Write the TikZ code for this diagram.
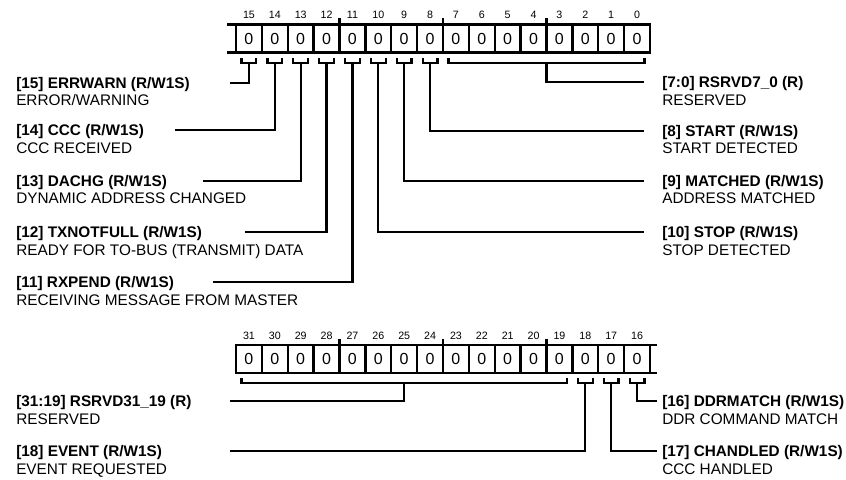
\documentclass[tikz,border=0pt]{standalone}
\usepackage{fontspec}
\setmainfont{Liberation Sans}
\newcommand\regbrk[3]{\draw[conn] (#1,#3) -- (#1,#3+5.5) -- (#2,#3+5.5) -- (#2,#3);}
\begin{document}
\begin{tikzpicture}[x=0.75pt,y=-0.75pt,
  reg/.style={line width=1.7pt},
  cellbox/.style={draw, line width=1.7pt, minimum width=19.40625pt, minimum height=21pt, inner sep=0pt, outer sep=0pt, font=\fontsize{12}{14}\selectfont},
  bitnum/.style={inner sep=0pt, font=\fontsize{8}{9}\selectfont},
  lbl/.style={anchor=base west, inner sep=0pt, font=\fontsize{11.5}{14}\selectfont\bfseries},
  dsc/.style={anchor=base west, inner sep=0pt, font=\fontsize{11.5}{14}\selectfont},
  conn/.style={line width=1.7pt, line join=miter}
]
\useasboundingbox (0,0) rectangle (846,479);

% ---------- top register (bits 15..0) ----------
\foreach \k in {0,...,15}{
  \pgfmathtruncatemacro\b{15-\k}
  \node[cellbox] (c\b) at ({236+(\k+0.5)*25.875},38.5) {0};
  \node[bitnum] (n\b) at ({236+(\k+0.5)*25.875},15) {\b};
}
\foreach \k in {4,8,12}{
  \draw[reg] ({236+\k*25.875},18) -- ({236+\k*25.875},24.5);
}
\coordinate (xt) at (227,24.5);
\coordinate (xb) at (227,52.5);
\draw[reg] (xt) -- (c15.north west);
\draw[reg] (xb) -- (c15.south west);

% brackets
\foreach \b in {15,...,8}{
  \pgfmathsetmacro\cx{236+(15-\b+0.5)*25.875}
  \regbrk{\cx-7.34}{\cx+7.34}{57.5}
}
\regbrk{448.6}{644.4}{57.5}

% stems / connectors (left)
\coordinate (s15) at (248.94,63); \coordinate (e15) at (230,82.7);
\coordinate (s14) at (274.81,63); \coordinate (e14) at (175,130);
\coordinate (s13) at (300.69,63); \coordinate (e13) at (203,180.7);
\coordinate (s12) at (326.56,63); \coordinate (e12) at (245,232);
\coordinate (s11) at (352.44,63); \coordinate (e11) at (213,282);
\foreach \b in {15,14,13,12,11}{ \draw[conn] (s\b) |- (e\b); }
% stems / connectors (right)
\coordinate (s10) at (378.31,63); \coordinate (e10) at (644,232);
\coordinate (s9) at (404.19,63); \coordinate (e9) at (644,180.7);
\coordinate (s8) at (430.06,63); \coordinate (e8) at (644,130.7);
\coordinate (s7) at (546.5,63); \coordinate (e7) at (644,82);
\foreach \b in {10,9,8,7}{ \draw[conn] (s\b) |- (e\b); }

% labels left
\node[lbl] (l15) at (16,88.2) {[15] ERRWARN (R/W1S)};
\node[dsc] (d15) at (16,105.7) {ERROR/WARNING};
\node[lbl] (l14) at (16,135.5) {[14] CCC (R/W1S)};
\node[dsc] (d14) at (16,153) {CCC RECEIVED};
\node[lbl] (l13) at (16,186.2) {[13] DACHG (R/W1S)};
\node[dsc] (d13) at (16,203.7) {DYNAMIC ADDRESS CHANGED};
\node[lbl] (l12) at (16,237.5) {[12] TXNOTFULL (R/W1S)};
\node[dsc] (d12) at (16,255) {READY FOR TO-BUS (TRANSMIT) DATA};
\node[lbl] (l11) at (16,287.5) {[11] RXPEND (R/W1S)};
\node[dsc] (d11) at (16,305) {RECEIVING MESSAGE FROM MASTER};
% labels right
\node[lbl] (l7) at (662,87.5) {[7:0] RSRVD7\_0 (R)};
\node[dsc] (d7) at (662,105) {RESERVED};
\node[lbl] (l8) at (662,136.2) {[8] START (R/W1S)};
\node[dsc] (d8) at (662,153.7) {START DETECTED};
\node[lbl] (l9) at (662,186.2) {[9] MATCHED (R/W1S)};
\node[dsc] (d9) at (662,203.7) {ADDRESS MATCHED};
\node[lbl] (l10) at (662,237.5) {[10] STOP (R/W1S)};
\node[dsc] (d10) at (662,255) {STOP DETECTED};

% ---------- lower register (bits 31..16) ----------
\foreach \k in {0,...,15}{
  \pgfmathtruncatemacro\b{31-\k}
  \node[cellbox] (c\b) at ({236+(\k+0.5)*25.875},358.75) {0};
  \node[bitnum] (n\b) at ({236+(\k+0.5)*25.875},335.5) {\b};
}
\foreach \k in {4,8,12}{
  \draw[reg] ({236+\k*25.875},338.5) -- ({236+\k*25.875},344.75);
}
\coordinate (yt) at (657,344.75);
\coordinate (yb) at (657,372.75);
\draw[reg] (c16.north east) -- (yt);
\draw[reg] (c16.south east) -- (yb);

\regbrk{241.6}{566.8}{377.5}
\foreach \b in {18,17,16}{
  \pgfmathsetmacro\cx{236+(31-\b+0.5)*25.875}
  \regbrk{\cx-7.34}{\cx+7.34}{377.5}
}
\coordinate (s31) at (404.19,383); \coordinate (e31) at (230,401);
\coordinate (s18) at (585.31,383); \coordinate (e18) at (230,451);
\coordinate (s17) at (611.19,383); \coordinate (e17) at (657,451);
\coordinate (s16) at (637.06,383); \coordinate (e16) at (657,401);
\foreach \b in {31,18,17,16}{ \draw[conn] (s\b) |- (e\b); }

\node[lbl] (l31) at (16,406.5) {[31:19] RSRVD31\_19 (R)};
\node[dsc] (d31) at (16,424) {RESERVED};
\node[lbl] (l18) at (16,456.5) {[18] EVENT (R/W1S)};
\node[dsc] (d18) at (16,474) {EVENT REQUESTED};
\node[lbl] (l16) at (662,406.5) {[16] DDRMATCH (R/W1S)};
\node[dsc] (d16) at (662,424) {DDR COMMAND MATCH};
\node[lbl] (l17) at (662,456.5) {[17] CHANDLED (R/W1S)};
\node[dsc] (d17) at (662,474) {CCC HANDLED};
\end{tikzpicture}
\end{document}
